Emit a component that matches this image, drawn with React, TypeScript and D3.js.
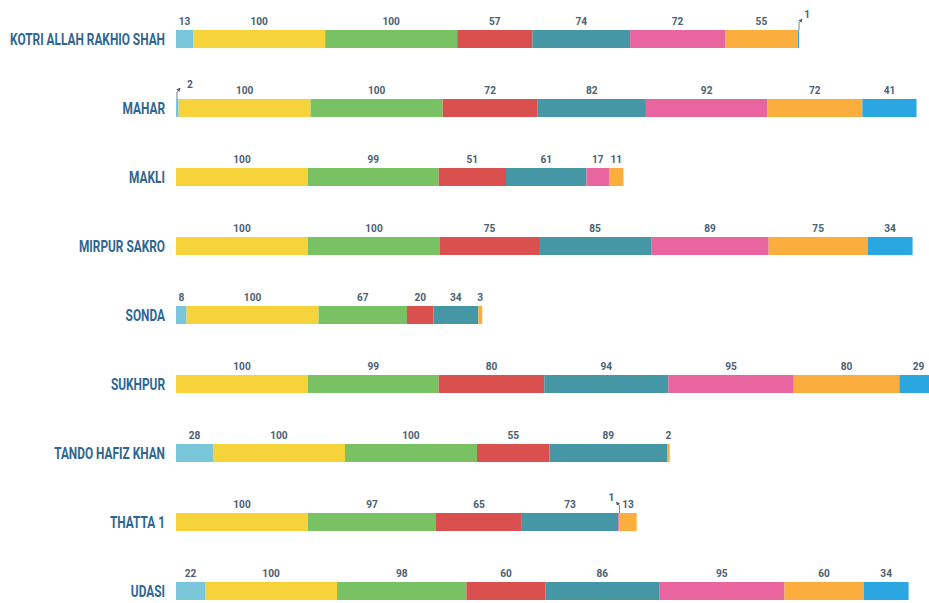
import React, { useEffect, useRef } from "react";
import * as d3 from "d3";

// --- Data ---
const places = [
  "KOTRI ALLAH RAKHIO SHAH",
  "MAHAR",
  "MAKLI",
  "MIRPUR SAKRO",
  "SONDA",
  "SUKHPUR",
  "TANDO HAFIZ KHAN",
  "THATTA 1",
  "UDASI",
];

// one array per series, same order as places
const sLightBlue = [13, 2, 0, 0, 8, 0, 28, 0, 22];
const sYellow = [100, 100, 100, 100, 100, 100, 100, 100, 100];
const sGreen = [100, 100, 99, 100, 67, 99, 100, 97, 98];
const sRed = [57, 72, 51, 75, 20, 80, 55, 65, 60];
const sTeal = [74, 82, 61, 85, 34, 94, 89, 73, 86];
const sPink = [72, 92, 17, 89, 0, 95, 0, 1, 95];
const sOrange = [55, 72, 11, 75, 3, 80, 2, 13, 60];
const sBlue = [1, 41, 0, 34, 0, 29, 0, 0, 34];

const seriesValues = [sLightBlue, sYellow, sGreen, sRed, sTeal, sPink, sOrange, sBlue];
const seriesColors = [
  "#79c5da",
  "#f6d33a",
  "#78c263",
  "#d9504f",
  "#4597a6",
  "#e8659f",
  "#fbad3d",
  "#2aa6e0",
];

// tiny segments that get a leader arrow: [row, series, label dx, label dy]
const callouts: [number, number, number, number][] = [
  [0, 7, 5, -18],
  [1, 0, 10, -17],
  [7, 5, -5, -18],
];

const W = 929;
const H = 603;

export default function App() {
  const ref = useRef<SVGSVGElement>(null);

  useEffect(() => {
    if (!ref.current) return;
    const svg = d3.select(ref.current);
    svg.selectAll("*").remove();

    const x = d3.scaleLinear().domain([0, 100]).range([176, 308]);
    // rows 69px apart, bars 18px tall
    const y = d3.scaleBand().domain(places).range([30, 600]).paddingInner(51 / 69).paddingOuter(0);
    const barH = y.bandwidth();

    const font = "Roboto, 'DejaVu Sans', sans-serif";
    const numColor = "#4a6172";
    const numScale = 0.88;

    const defs = svg.append("defs");
    defs
      .append("marker")
      .attr("id", "ah")
      .attr("viewBox", "0 0 6 6")
      .attr("refX", 5)
      .attr("refY", 3)
      .attr("markerWidth", 5)
      .attr("markerHeight", 5)
      .attr("orient", "auto")
      .append("path")
      .attr("d", "M0,0 L6,3 L0,6 Z")
      .attr("fill", numColor);

    const addNum = (g: any, cx: number, cy: number, v: number) => {
      g.append("text")
        .attr("transform", `translate(${cx},${cy}) scale(${numScale},1)`)
        .attr("text-anchor", "middle")
        .style("font-family", font)
        .style("font-weight", "bold")
        .style("font-size", "11.5px")
        .style("fill", numColor)
        .text(v);
    };

    // label condensing factor measured from the longest label
    const probe = svg
      .append("text")
      .style("font-family", font)
      .style("font-weight", "bold")
      .style("font-size", "16px")
      .text(places[0]);
    const labScale = 155 / (probe.node() as SVGTextElement).getComputedTextLength();
    probe.remove();

    places.forEach((p, i) => {
      const top = y(p)!;
      const g = svg.append("g");

      g.append("text")
        .attr("transform", `translate(165,${top + barH / 2}) scale(${labScale},1)`)
        .attr("dy", "0.36em")
        .attr("text-anchor", "end")
        .style("font-family", font)
        .style("font-weight", "bold")
        .style("font-size", "16px")
        .style("fill", "#2f6691")
        .text(p);

      let acc = 0;
      seriesValues.forEach((vals, s) => {
        const v = vals[i];
        if (!v) return;
        const x0 = x(acc);
        const x1 = x(acc + v);
        acc += v;
        g.append("rect")
          .attr("x", x0)
          .attr("y", top)
          .attr("width", Math.max(x1 - x0, 1))
          .attr("height", barH)
          .attr("fill", seriesColors[s]);

        const co = callouts.find((c) => c[0] === i && c[1] === s);
        if (co) {
          const ax = s === 0 ? x0 + 1 : x1;
          const dir = co[2] > 0 ? 1 : -1;
          g.append("line")
            .attr("x1", ax)
            .attr("y1", top)
            .attr("x2", ax)
            .attr("y2", top - 7)
            .attr("stroke", numColor)
            .attr("stroke-width", 0.8);
          g.append("line")
            .attr("x1", ax)
            .attr("y1", top - 7)
            .attr("x2", ax + dir * 3)
            .attr("y2", top - 11)
            .attr("stroke", numColor)
            .attr("stroke-width", 0.8)
            .attr("marker-end", "url(#ah)");
          addNum(g, ax + co[2] + dir * 3, top + co[3] + 6, v);
        } else {
          addNum(g, (x0 + x1) / 2, top - 5, v);
        }
      });
    });
  }, []);

  return (
    <div style={{ position: "absolute", left: 0, top: 0, width: W, height: H, overflow: "hidden", background: "#fff" }}>
      <svg ref={ref} width={W} height={H} />
    </div>
  );
}
